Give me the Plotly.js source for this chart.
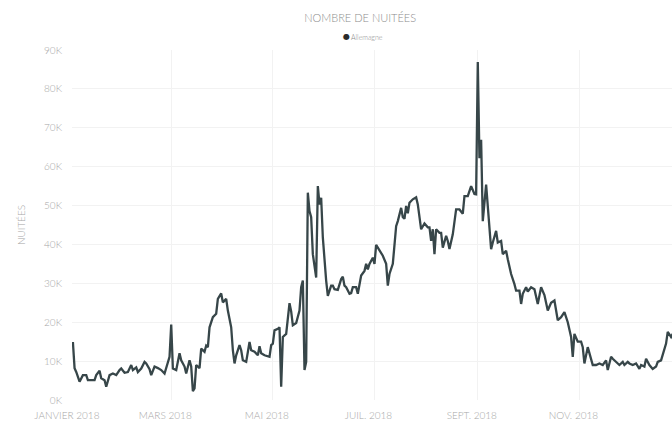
<!DOCTYPE html>
<html>
<head>
<meta charset="utf-8">
<script src="https://cdn.plot.ly/plotly-3.0.1.min.js"></script>
<style>
  html, body { margin: 0; padding: 0; background: #ffffff; }
  #chart { width: 672px; height: 422px; }
</style>
</head>
<body>
<div id="chart"></div>
<script>
// Daily nights (nuitées), Allemagne, 2018
const dates = [
  "2018-01-01","2018-01-02","2018-01-03","2018-01-05","2018-01-07","2018-01-09","2018-01-10","2018-01-12","2018-01-14","2018-01-15",
  "2018-01-17","2018-01-18","2018-01-20","2018-01-21","2018-01-23","2018-01-25","2018-01-27","2018-01-29","2018-01-30","2018-02-01",
  "2018-02-03","2018-02-05","2018-02-06","2018-02-08","2018-02-09","2018-02-11","2018-02-13","2018-02-14","2018-02-16","2018-02-17",
  "2018-02-19","2018-02-21","2018-02-23","2018-02-25","2018-02-26","2018-02-28","2018-03-01","2018-03-02","2018-03-04","2018-03-06",
  "2018-03-07","2018-03-09","2018-03-10","2018-03-12","2018-03-13","2018-03-14","2018-03-15","2018-03-16","2018-03-18","2018-03-19",
  "2018-03-21","2018-03-22","2018-03-23","2018-03-24","2018-03-26","2018-03-28","2018-03-29","2018-03-31","2018-04-01","2018-04-03",
  "2018-04-04","2018-04-06","2018-04-07","2018-04-08","2018-04-09","2018-04-11","2018-04-12","2018-04-13","2018-04-15","2018-04-17",
  "2018-04-18","2018-04-20","2018-04-22","2018-04-23","2018-04-24","2018-04-26","2018-04-29","2018-04-30","2018-05-01","2018-05-02",
  "2018-05-04","2018-05-05","2018-05-06","2018-05-07","2018-05-09","2018-05-11","2018-05-12","2018-05-13","2018-05-15","2018-05-17",
  "2018-05-18","2018-05-19","2018-05-20","2018-05-21","2018-05-22","2018-05-23","2018-05-24","2018-05-25","2018-05-26","2018-05-27",
  "2018-05-28","2018-05-29","2018-05-30","2018-05-31","2018-06-02","2018-06-03","2018-06-05","2018-06-06","2018-06-07","2018-06-09",
  "2018-06-11","2018-06-12","2018-06-13","2018-06-14","2018-06-16","2018-06-17","2018-06-18","2018-06-20","2018-06-21","2018-06-23",
  "2018-06-25","2018-06-26","2018-06-27","2018-06-28","2018-06-30","2018-07-01","2018-07-02","2018-07-04","2018-07-06","2018-07-08",
  "2018-07-09","2018-07-10","2018-07-12","2018-07-14","2018-07-15","2018-07-17","2018-07-18","2018-07-19","2018-07-20","2018-07-21",
  "2018-07-22","2018-07-24","2018-07-26","2018-07-27","2018-07-29","2018-07-31","2018-08-02","2018-08-03","2018-08-04","2018-08-05",
  "2018-08-06","2018-08-07","2018-08-09","2018-08-10","2018-08-11","2018-08-13","2018-08-14","2018-08-15","2018-08-17","2018-08-19",
  "2018-08-21","2018-08-23","2018-08-24","2018-08-26","2018-08-28","2018-08-30","2018-08-31","2018-09-01","2018-09-02","2018-09-03",
  "2018-09-04","2018-09-06","2018-09-07","2018-09-09","2018-09-10","2018-09-12","2018-09-13","2018-09-15","2018-09-16","2018-09-18",
  "2018-09-19","2018-09-21","2018-09-23","2018-09-24","2018-09-26","2018-09-27","2018-09-28","2018-09-30","2018-10-01","2018-10-03",
  "2018-10-05","2018-10-07","2018-10-09","2018-10-11","2018-10-13","2018-10-15","2018-10-17","2018-10-19","2018-10-21","2018-10-23",
  "2018-10-25","2018-10-27","2018-10-28","2018-10-29","2018-10-31","2018-11-02","2018-11-03","2018-11-04","2018-11-06","2018-11-07",
  "2018-11-09","2018-11-11","2018-11-13","2018-11-15","2018-11-17","2018-11-18","2018-11-20","2018-11-21","2018-11-23","2018-11-25",
  "2018-11-27","2018-11-28","2018-11-30","2018-12-01","2018-12-03","2018-12-05","2018-12-07","2018-12-08","2018-12-10","2018-12-11",
  "2018-12-13","2018-12-15","2018-12-17","2018-12-18","2018-12-20","2018-12-22","2018-12-23","2018-12-24","2018-12-26","2018-12-27"
];
const nuitees = [
  14900,8200,7200,4700,6400,6400,5100,5100,5100,6400,
  7500,5600,5100,3400,6400,6800,6400,7700,8100,7000,
  7200,9000,7700,8400,7200,8100,9800,9400,7900,6400,
  8600,8200,7700,6800,8100,11100,19400,8100,7700,12000,
  10200,8600,6800,10200,8600,2300,3000,9000,8200,13200,
  12400,14000,13600,18700,21300,22200,26000,27400,25100,26000,
  23000,18700,12800,9400,11500,14100,12800,10200,9800,14900,
  12800,12400,11500,13800,12000,11500,11100,14100,14500,17900,
  18300,18700,3400,16200,17000,24900,22800,19200,19800,23000,
  29000,30700,7700,9800,53300,48600,47000,37500,34500,31500,
  55000,50300,52000,41800,30700,26800,29400,29400,28500,28300,
  31100,31700,29400,29000,27300,27500,29000,29000,27300,32000,
  33200,35000,33600,35000,36600,35000,39900,38400,37100,35000,
  29400,32400,35000,44700,46000,49400,47000,46600,49900,48000,
  50700,51600,52100,50300,43900,45400,44400,44400,40900,43900,
  37500,43900,43000,43000,39200,42200,40900,38800,42600,49000,
  49000,47900,52400,52400,55000,53000,52900,86900,62200,66900,
  46000,55400,50300,38800,40500,43500,40500,40900,37500,38400,
  36200,32400,29800,28100,28100,24700,27300,29000,27900,29000,
  28500,24700,29000,27000,23000,25000,25600,20500,21300,22600,
  20000,16200,11100,17000,15000,15000,13600,9400,13600,12000,
  9000,9000,9400,9000,10200,7700,11100,10600,9800,9000,
  9800,9000,9800,9400,9000,9400,8000,9000,8600,10600,
  9000,8000,8600,9800,10200,12800,14500,17500,16200,17000
];
const seriesName = "Allemagne";
const monthTicks = ["2018-01-01","2018-03-01","2018-05-01","2018-07-01","2018-09-01","2018-11-01"];
const monthLabels = ["JANVIER 2018","MARS 2018","MAI 2018","JUIL. 2018","SEPT. 2018","NOV. 2018"];
const yTicks = [0,10000,20000,30000,40000,50000,60000,70000,80000,90000];
const yLabels = ["0K","10K","20K","30K","40K","50K","60K","70K","80K","90K"];

const lineColor = "#374649";
const fontFam = "Lato, 'Open Sans', sans-serif";

const traces = [
  {
    x: dates, y: nuitees, type: "scatter", mode: "lines",
    line: { color: lineColor, width: 2.3 },
    name: seriesName, showlegend: false
  }
];

const layout = {
  width: 672, height: 422,
  margin: { l: 72, r: 0, t: 50, b: 22 },
  paper_bgcolor: "#ffffff", plot_bgcolor: "#ffffff",
  font: { family: fontFam, color: "#9a9a9a", size: 10 },
  title: {
    text: "NOMBRE DE NUITÉES",
    font: { family: fontFam, size: 11, color: "#8c8c8c", weight: 300 },
    x: 0.536, xref: "container", xanchor: "center",
    y: 0.957, yref: "container", yanchor: "middle"
  },
  showlegend: false,
  annotations: [
    {
      text: "●", xref: "paper", yref: "paper",
      x: (346 - 72) / 600, y: (400 - 36.5) / 350,
      xanchor: "center", yanchor: "middle", showarrow: false,
      font: { family: "DejaVu Sans", size: 8, color: "#2b2b2b" }
    },
    {
      text: seriesName, xref: "paper", yref: "paper",
      x: (349 - 72) / 600, y: (400 - 36.5) / 350,
      xanchor: "left", yanchor: "middle", showarrow: false,
      font: { family: fontFam, size: 7, color: "#8a8a8a", weight: 300 }
    }
  ],
  xaxis: {
    type: "date",
    range: ["2017-12-31 11:00", "2018-12-26 13:30"],
    tickmode: "array", tickvals: monthTicks, ticktext: monthLabels,
    showgrid: true, gridcolor: "#f2f2f2", gridwidth: 1,
    zeroline: false, showline: false, ticks: "",
    ticklabelstandoff: 8, ticklabelshift: -6,
    tickfont: { family: fontFam, size: 10, color: "#a6a6a6", weight: 300 }
  },
  yaxis: {
    range: [0, 90000],
    tickmode: "array", tickvals: yTicks, ticktext: yLabels,
    showgrid: true, gridcolor: "#f2f2f2", gridwidth: 1,
    zeroline: false, showline: false, ticks: "",
    ticklabelstandoff: 9,
    tickfont: { family: fontFam, size: 10, color: "#a6a6a6", weight: 300 },
    title: {
      text: "NUITÉES", standoff: 16,
      font: { family: fontFam, size: 10, color: "#a6a6a6", weight: 300 }
    }
  },
  hovermode: false
};

Plotly.newPlot("chart", traces, layout, { displayModeBar: false, staticPlot: true });
</script>
</body>
</html>
